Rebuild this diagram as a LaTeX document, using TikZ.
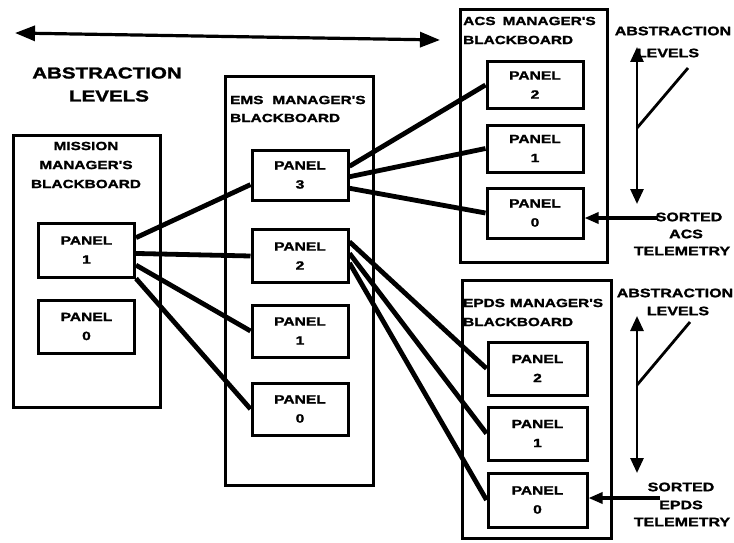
\documentclass[tikz,border=0pt]{standalone}
\usepackage{fontspec}
\usepackage{tikz}
\usetikzlibrary{arrows.meta}
\newfontfamily\diafont{Liberation Sans}[FakeStretch=1.3, BoldFeatures={FakeStretch=1.3, FakeBold=1.6}]
\tikzset{board/.style={draw, line width=3pt, inner sep=0pt},
         panel/.style={draw, line width=3pt, minimum width=96pt, minimum height=53pt, align=center,
                       font=\diafont\bfseries\fontsize{12}{19}\selectfont},
         boardlabel/.style={inner sep=0pt, font=\diafont\bfseries\fontsize{11.8}{12}\selectfont},
         note/.style={inner sep=0pt, font=\diafont\bfseries\fontsize{12.3}{13}\selectfont},
         link/.style={line width=4.8pt},
         levelarrow/.style={line width=2.8pt, {Triangle[length=15pt,width=13pt]}-{Triangle[length=15pt,width=13pt]}},
         feed/.style={line width=3.2pt, -{Triangle[length=14pt,width=11pt]}}}

\begin{document}
\begin{tikzpicture}[x=1pt, y=-1pt]
    \useasboundingbox (0,0) rectangle (734,543);

    % top arrow and heading
    \coordinate (topl) at (15,33);
    \coordinate (topr) at (440,40);
    \draw [line width=3.2pt, {Triangle[length=20pt,width=15pt]}-{Triangle[length=20pt,width=15pt]}] (topl) -- (topr);
    \node [note, font=\diafont\bfseries\fontsize{15.8}{17}\selectfont] (headA) at (107,73) {ABSTRACTION};
    \node [note, font=\diafont\bfseries\fontsize{15.8}{17}\selectfont] (headL) at (109,96) {LEVELS};

    % blackboards
    \node [board, minimum width=147pt, minimum height=272pt] (mission) at (86.5,271) {};
    \node [board, minimum width=148pt, minimum height=409pt] (ems) at (299,281) {};
    \node [board, minimum width=147pt, minimum height=252pt] (acs) at (533.5,136) {};
    \node [board, minimum width=149pt, minimum height=258pt] (epds) at (536.5,409) {};

    \node [boardlabel] (missionA) at (86,146) {MISSION};
    \node [boardlabel] (missionB) at (86,165) {MANAGER'S};
    \node [boardlabel] (missionC) at (86,184) {BLACKBOARD};
    \node [boardlabel, anchor=west] (emsA) at (230,100) {EMS\hspace{9pt}MANAGER'S};
    \node [boardlabel, anchor=west] (emsB) at (230,118) {BLACKBOARD};
    \node [boardlabel, anchor=west] (acsA) at (463,21) {ACS\hspace{7pt}MANAGER'S};
    \node [boardlabel, anchor=west] (acsB) at (463,40) {BLACKBOARD};
    \node [boardlabel, anchor=west] (epdsA) at (463,303) {EPDS\hspace{5pt}MANAGER'S};
    \node [boardlabel, anchor=west] (epdsB) at (463,322) {BLACKBOARD};

    % panels
    \node [panel, minimum height=54pt] (m1) at (86.5,250) {PANEL\\1};
    \node [panel] (m0) at (86.5,326.5) {PANEL\\0};
    \node [panel, minimum height=50pt] (e3) at (300,175) {PANEL\\3};
    \node [panel] (e2) at (300,256) {PANEL\\2};
    \node [panel, minimum height=52pt] (e1) at (300,331) {PANEL\\1};
    \node [panel, minimum height=52pt] (e0) at (300,409) {PANEL\\0};
    \node [panel, minimum height=46pt] (a2) at (535,85) {PANEL\\2};
    \node [panel, minimum height=47pt] (a1) at (535,148.5) {PANEL\\1};
    \node [panel, minimum height=50pt] (a0) at (535,213) {PANEL\\0};
    \node [panel, minimum width=99pt] (p2) at (537.5,368.5) {PANEL\\2};
    \node [panel, minimum width=99pt] (p1) at (537.5,433.5) {PANEL\\1};
    \node [panel, minimum width=99pt, minimum height=54pt] (p0) at (537.5,500) {PANEL\\0};

    % links between panels
    \draw [link] (m1.14) -- (e3.191);
    \draw [link] (m1.-4) -- (e2.west);
    \draw [link] (m1.-17) -- (e1.west);
    \draw [link] (m1.south east) -- (e0.west);
    \foreach \t/\a in {a2/10, a1/-2, a0/-15}
        \draw [link] (e3.\a) -- (\t.west);
    \foreach \t/\a in {p2/16, p1/3, p0/-8}
        \draw [link] (e2.\a) -- (\t.west);

    % ACS side notes
    \node [note] (acsAbs) at (673,31) {ABSTRACTION};
    \node [note] (acsLev) at (668,53) {LEVELS};
    \coordinate (acsTop) at (637,47);
    \coordinate (acsBot) at (637,204);
    \coordinate (acsMid) at (637,128);
    \coordinate (acsTip) at (688,68);
    \draw [levelarrow] (acsBot) -- (acsTop);
    \draw [line width=2.8pt] (acsMid) -- (acsTip);
    \node [note] (acsSort) at (689,217) {SORTED};
    \node [note] (acsName) at (686,234) {ACS};
    \node [note] (acsTel) at (682,251) {TELEMETRY};
    \coordinate (acsFeed) at (658,218);
    \draw [feed] (acsFeed) -- (a0.east |- acsFeed);

    % EPDS side notes
    \node [note] (epdsAbs) at (675,293) {ABSTRACTION};
    \node [note] (epdsLev) at (678,311) {LEVELS};
    \coordinate (epdsTop) at (637,316);
    \coordinate (epdsBot) at (637,473);
    \coordinate (epdsMid) at (637,385);
    \coordinate (epdsTip) at (690,322);
    \draw [levelarrow] (epdsBot) -- (epdsTop);
    \draw [line width=2.8pt] (epdsMid) -- (epdsTip);
    \node [note] (epdsSort) at (681,487) {SORTED};
    \node [note] (epdsName) at (681,505) {EPDS};
    \node [note] (epdsTel) at (682,522) {TELEMETRY};
    \coordinate (epdsFeed) at (660,498);
    \draw [feed] (epdsFeed) -- (p0.east |- epdsFeed);

\end{tikzpicture}
\end{document}
